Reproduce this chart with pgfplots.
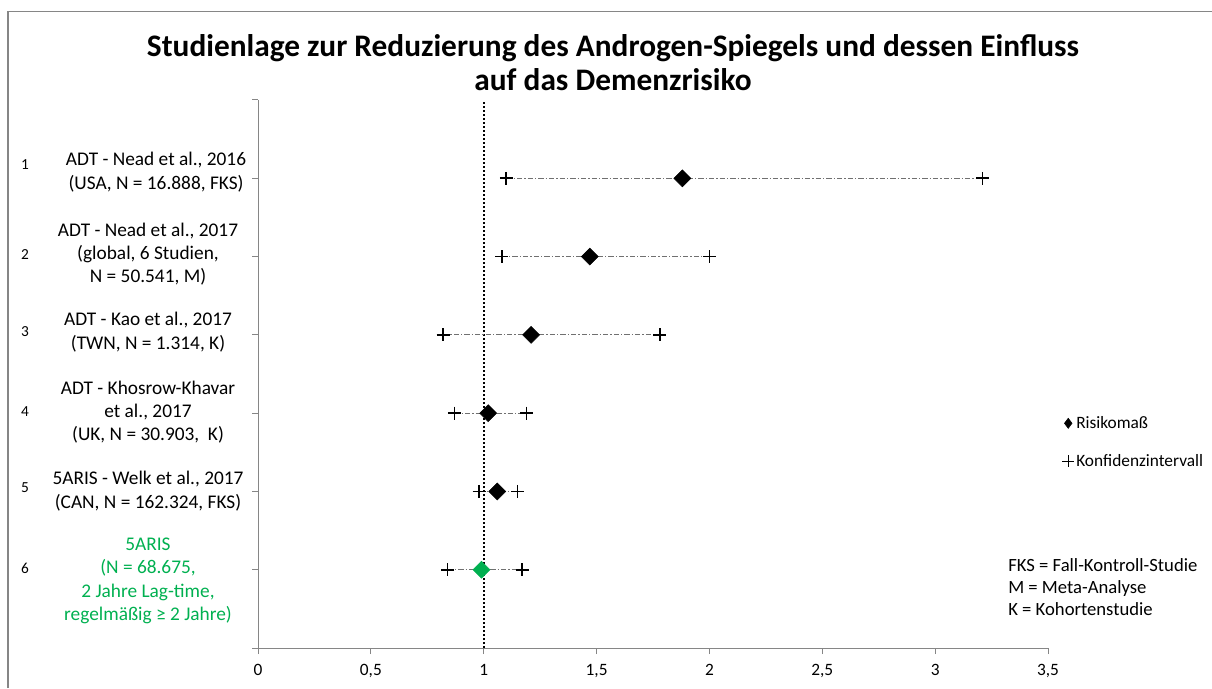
\documentclass[border=0pt]{standalone}
\usepackage{fontspec}
\setmainfont{Carlito}
\usepackage{pgfplots}
\pgfplotsset{compat=1.18}
\definecolor{axgray}{HTML}{868686}
\definecolor{exgreen}{HTML}{00B050}
\definecolor{cigray}{HTML}{707070}
\begin{document}
\begin{tikzpicture}
\useasboundingbox (0,0) rectangle (909pt,-516pt);
\draw[axgray, line width=0.8pt] (6pt,-516pt) -- (6pt,-8.6pt) -- (909pt,-8.6pt);
% title
\node[anchor=base, font=\fontsize{23.5}{26}\selectfont\bfseries] at (459.75pt,-42.7pt) {Studienlage zur Reduzierung des Androgen-Spiegels und dessen Einfluss};
\node[anchor=base, font=\fontsize{23.5}{26}\selectfont\bfseries] at (459.75pt,-67.7pt) {auf das Demenzrisiko};
\begin{axis}[
  at={(193.5pt,-486pt)}, anchor=south west,
  scale only axis, width=592.5pt, height=411pt,
  xmin=0, xmax=3.5, ymin=0, ymax=7,
  axis x line=bottom, axis y line=left,
  axis line style={axgray, line width=0.75pt, -},
  xtick={0,0.5,1,1.5,2,2.5,3,3.5},
  ytick={0,1,2,3,4,5,6,7}, yticklabels={},
  tick style={axgray, line width=0.75pt},
  tick align=outside, major tick length=4.5pt,
  xticklabel style={font=\fontsize{13}{15}\selectfont, text=black, yshift=-4.5pt},
  /pgf/number format/.cd, use comma, assume math mode=true, /pgfplots/.cd,
  clip=false,
  legend style={draw=none, fill=none, at={(1.0177,0.427)}, anchor=north west,
    font=\fontsize{13}{15}\selectfont, legend cell align=left, row sep=15pt,
    inner sep=0pt, nodes={inner sep=1.5pt}},
  legend image code/.code={\draw[mark repeat=2,mark phase=2,#1] plot coordinates {(0pt,0pt) (4.5pt,0pt) (9pt,0pt)};},
]
% reference line at 1
\addplot[black, line width=1.5pt, dash pattern=on 1.5pt off 1.5pt, forget plot] coordinates {(1,0) (1,7)};
% confidence intervals (lower, upper) per study
\pgfplotsset{ci/.style={cigray, line width=0.6pt, dash pattern=on 4pt off 1.5pt on 1pt off 1.5pt,
  mark=+, mark size=4.9pt, mark options={black, solid, line width=1.3pt}, forget plot}}
\addplot[ci] coordinates {(1.10,6) (3.21,6)};
\addplot[ci] coordinates {(1.08,5) (2.00,5)};
\addplot[ci] coordinates {(0.82,4) (1.78,4)};
\addplot[ci] coordinates {(0.87,3) (1.19,3)};
\addplot[ci] coordinates {(0.98,2) (1.15,2)};
\addplot[ci] coordinates {(0.84,1) (1.17,1)};
% risk estimates
\addplot[only marks, mark=square*, mark size=4.5pt, mark options={rotate=45, black}, forget plot]
  coordinates {(1.88,6) (1.47,5) (1.21,4) (1.02,3) (1.06,2)};
\addplot[only marks, mark=square*, mark size=4.5pt, mark options={rotate=45, exgreen}, forget plot]
  coordinates {(0.99,1)};
% legend
\addlegendimage{only marks, mark=diamond*, mark size=3.8pt, black}
\addlegendentry{Risikoma\ss}
\addlegendimage{only marks, mark=+, mark size=4.5pt, black, line width=1pt}
\addlegendentry{Konfidenzintervall}
\end{axis}
% row numbers
\begin{scope}[every node/.style={font=\fontsize{11.5}{12}\selectfont}]
\node at (18.75pt,-123.75pt) {1};
\node at (18.75pt,-191.25pt) {2};
\node at (18.75pt,-249pt) {3};
\node at (18.75pt,-309pt) {4};
\node at (18.75pt,-366pt) {5};
\node at (18.75pt,-426pt) {6};
\end{scope}
% study labels
\begin{scope}[every node/.style={align=center, font=\fontsize{14.5}{17.5}\selectfont, inner sep=0pt}]
\node at (117pt,-129pt) {ADT - Nead et al., 2016\\(USA, N = 16.888, FKS)};
\node at (111pt,-190.5pt) {ADT - Nead et al., 2017\\(global, 6 Studien,\\N = 50.541, M)};
\node at (111pt,-249pt) {ADT - Kao et al., 2017\\(TWN, N = 1.314, K)};
\node at (111pt,-309pt) {ADT - Khosrow-Khavar\\et al., 2017\\(UK, N = 30.903,\ \ K)};
\node at (111pt,-368.25pt) {5ARIS - Welk et al., 2017\\(CAN, N = 162.324, FKS)};
\node[text=exgreen] at (111pt,-435.75pt) {5ARIS\\(N = 68.675,\\2 Jahre Lag-time,\\regelmäßig ≥ 2 Jahre)};
\end{scope}
% abbreviations
\node[anchor=west, align=left, inner sep=0pt, font=\fontsize{14}{16.5}\selectfont] at (756pt,-440.25pt)
  {FKS = Fall-Kontroll-Studie\\M = Meta-Analyse\\K = Kohortenstudie};
\end{tikzpicture}
\end{document}
